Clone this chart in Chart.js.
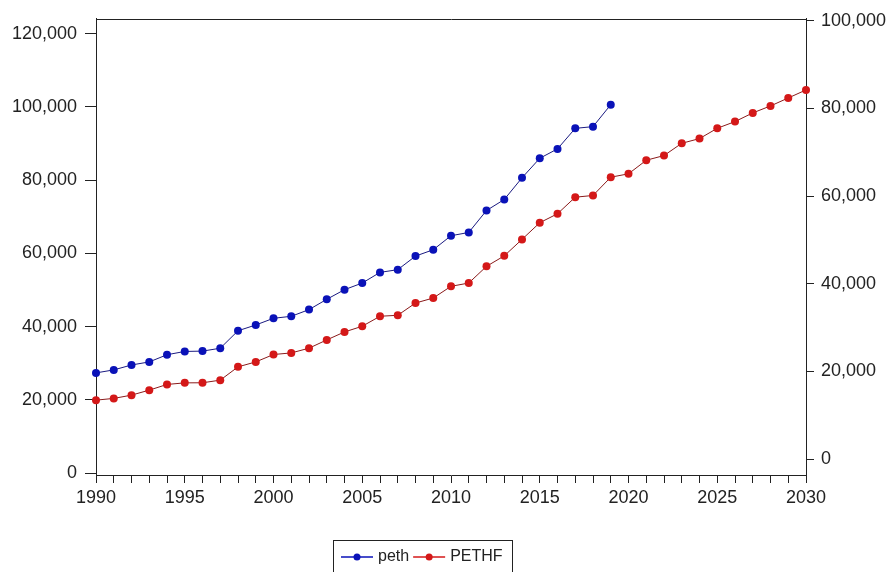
<!DOCTYPE html>
<html><head><meta charset="utf-8">
<script src="https://cdn.jsdelivr.net/npm/chart.js@4/dist/chart.umd.min.js"></script>
<style>html,body{margin:0;padding:0;background:#fff}#wrap{width:891px;height:572px}</style>
</head><body><div id="wrap"><canvas id="c" width="891" height="572"></canvas></div>
<script>
const seriesNames = ['peth', 'PETHF'];
const pethYears = [1990,1991,1992,1993,1994,1995,1996,1997,1998,1999,2000,2001,2002,2003,2004,2005,2006,2007,2008,2009,2010,2011,2012,2013,2014,2015,2016,2017,2018,2019];
const pethValues = [27350,28170,29510,30350,32310,33210,33300,34090,38860,40440,42270,42810,44640,47450,50090,51900,54810,55550,59260,61000,64820,65720,71720,74720,80640,85980,88550,94160,94630,100630];
const pethfYears = [1990,1991,1992,1993,1994,1995,1996,1997,1998,1999,2000,2001,2002,2003,2004,2005,2006,2007,2008,2009,2010,2011,2012,2013,2014,2015,2016,2017,2018,2019,2020,2021,2022,2023,2024,2025,2026,2027,2028,2029,2030];
const pethfValues = [13440,13830,14580,15720,17020,17380,17400,18000,21030,22160,23850,24210,25290,27180,29000,30300,32580,32800,35600,36740,39410,40160,43970,46360,50120,53920,55970,59750,60140,64310,65080,68180,69250,72050,73120,75470,77000,78980,80570,82390,84220];
const xTickLabels = [1990,1995,2000,2005,2010,2015,2020,2025,2030];
const leftTicks = [0,20000,40000,60000,80000,100000,120000];
const rightTicks = [0,20000,40000,60000,80000,100000];

const FONT = {family: '"Liberation Sans", Arial, sans-serif', size: 18};
const TXT = '#222';
const AX = '#222';
const BLUE = '#0a12b8';
const RED = '#d41818';

const framePlugin = {
  id: 'frame',
  beforeDatasetsDraw(chart) {
    const {ctx, chartArea: a} = chart;
    ctx.save();
    ctx.strokeStyle = AX; ctx.lineWidth = 1;
    ctx.beginPath();
    ctx.moveTo(Math.round(a.left) + 0.5, Math.round(a.top) + 0.5);
    ctx.lineTo(Math.round(a.right) + 0.5, Math.round(a.top) + 0.5);
    ctx.stroke();
    ctx.restore();
  }
};

const legendPlugin = {
  id: 'customLegend',
  afterDraw(chart) {
    const ctx = chart.ctx;
    const ds = chart.data.datasets;
    ctx.save();
    ctx.font = '16px ' + FONT.family;
    const bx = 333, by = 540, bw = 179, bh = 40;
    ctx.strokeStyle = AX; ctx.lineWidth = 1;
    ctx.strokeRect(bx + 0.5, by + 0.5, bw, bh);
    let x = bx + 8;
    const cy = 557;
    ds.forEach((d) => {
      ctx.strokeStyle = d.pointBackgroundColor; ctx.lineWidth = 1.5;
      ctx.beginPath(); ctx.moveTo(x, cy); ctx.lineTo(x + 32, cy); ctx.stroke();
      ctx.fillStyle = d.pointBackgroundColor;
      ctx.beginPath(); ctx.arc(x + 16, cy, 3.5, 0, Math.PI * 2); ctx.fill();
      x += 37;
      ctx.fillStyle = TXT; ctx.textBaseline = 'middle'; ctx.textAlign = 'left';
      ctx.fillText(d.label, x, cy);
      x += ctx.measureText(d.label).width + 4;
    });
    ctx.restore();
  }
};

const allYears = [];
for (let y = xTickLabels[0]; y <= xTickLabels[xTickLabels.length - 1]; y++) allYears.push(y);

new Chart(document.getElementById('c'), {
  type: 'line',
  data: {
    datasets: [
      {label: seriesNames[0], data: pethYears.map((y, i) => ({x: y, y: pethValues[i]})), yAxisID: 'yL',
       borderColor: '#1a1a80', borderWidth: 1, pointBackgroundColor: BLUE, pointBorderColor: BLUE,
       pointRadius: 4, pointBorderWidth: 0, tension: 0, clip: false},
      {label: seriesNames[1], data: pethfYears.map((y, i) => ({x: y, y: pethfValues[i]})), yAxisID: 'yR',
       borderColor: '#8a1a1a', borderWidth: 1, pointBackgroundColor: RED, pointBorderColor: RED,
       pointRadius: 4, pointBorderWidth: 0, tension: 0, clip: false}
    ]
  },
  options: {
    responsive: false, animation: false, devicePixelRatio: 1,
    layout: {padding: {top: 18, left: 0, right: 0, bottom: 0}},
    plugins: {legend: {display: false}, tooltip: {enabled: false}},
    scales: {
      x: {
        type: 'linear', position: 'bottom', min: 1990, max: 2030,
        afterFit: s => { s.height = 97; },
        afterBuildTicks: s => { s.ticks = allYears.map(v => ({value: v})); },
        ticks: {autoSkip: false, maxRotation: 0, minRotation: 0, padding: 4, color: TXT, font: FONT,
                callback: v => xTickLabels.includes(v) ? String(v) : ''},
        grid: {drawOnChartArea: false, drawTicks: true, tickLength: 8, color: AX},
        border: {color: AX, width: 1}
      },
      yL: {
        position: 'left', min: -545, max: 124091,
        afterFit: s => { s.width = 96; },
        afterBuildTicks: s => { s.ticks = leftTicks.map(v => ({value: v})); },
        ticks: {padding: 8, color: TXT, font: FONT, callback: v => Number(v).toLocaleString('en-US')},
        grid: {drawOnChartArea: false, tickLength: 11, color: AX},
        border: {color: AX, width: 1}
      },
      yR: {
        position: 'right', min: -3645, max: 100456,
        afterFit: s => { s.width = 85; },
        afterBuildTicks: s => { s.ticks = rightTicks.map(v => ({value: v})); },
        ticks: {padding: 7, color: TXT, font: FONT, callback: v => Number(v).toLocaleString('en-US')},
        grid: {drawOnChartArea: false, tickLength: 8, color: AX},
        border: {color: AX, width: 1}
      }
    }
  },
  plugins: [framePlugin, legendPlugin]
});
</script></body></html>
